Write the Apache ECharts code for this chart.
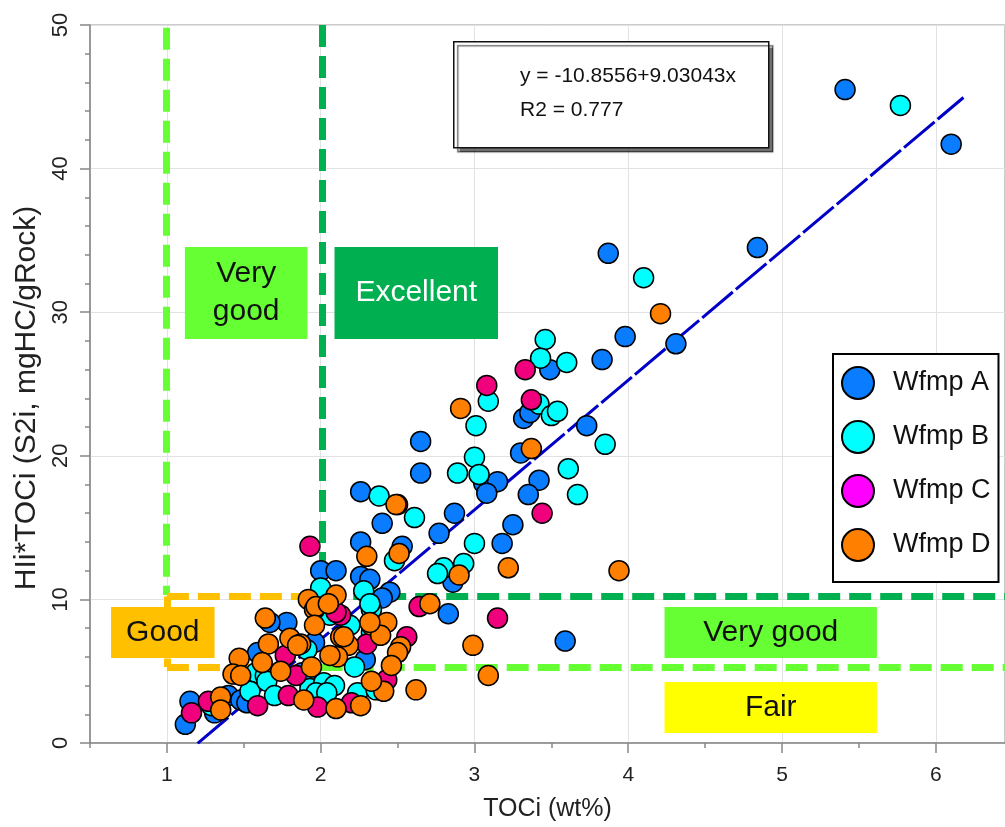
<!DOCTYPE html>
<html><head><meta charset="utf-8">
<script src="https://cdn.jsdelivr.net/npm/echarts@6/dist/echarts.min.js"></script>
<style>html,body{margin:0;padding:0;background:#fff}#c{width:1005px;height:827px}</style>
</head><body><div id="c"></div>
<script>
// ---------------- data ----------------
const seriesNames = ['Wfmp A', 'Wfmp B', 'Wfmp C', 'Wfmp D'];
const wfmpA = [
  [5.41,45.5],[6.10,41.7],[4.84,34.5],[3.87,34.1],[3.98,28.3],[4.31,27.8],[3.83,26.7],[3.49,26.0],
  [3.32,22.6],[3.36,23.0],[3.73,22.1],[2.65,21.0],[2.65,18.8],[3.06,18.1],[3.15,18.2],[3.08,17.4],
  [3.30,20.2],[3.42,18.3],[3.35,17.3],[3.25,15.2],[3.18,13.9],[2.26,17.5],[2.87,16.0],[2.77,14.6],
  [2.40,15.3],[2.26,14.0],[2.53,13.7],[2.86,11.2],[2.00,12.0],[2.10,12.0],[2.26,11.6],[2.32,11.4],
  [2.45,10.5],[2.40,10.1],[2.83,9.0],[3.59,7.1],[1.96,7.0],[2.29,5.8],[1.78,8.4],[1.67,8.4],
  [1.59,6.3],[1.90,4.6],[1.40,3.3],[1.48,3.0],[1.52,2.8],[1.15,2.9],[1.31,2.1],[1.12,1.3],[1.88,4.9]
];
const wfmpB = [
  [5.77,44.4],[4.10,32.4],[3.46,28.1],[3.60,26.5],[3.43,26.8],[3.09,23.8],[3.01,22.1],[3.42,23.6],
  [3.50,22.8],[3.54,23.1],[3.85,20.8],[3.00,19.9],[2.89,18.8],[3.03,18.7],[3.61,19.1],[3.67,17.3],
  [3.00,13.9],[2.38,17.2],[2.61,15.7],[2.48,12.7],[2.80,12.2],[2.76,11.8],[2.93,12.5],[2.28,10.6],
  [2.00,10.8],[2.06,8.9],[2.19,8.2],[2.33,9.3],[2.22,5.3],[2.37,7.9],[2.32,9.7],[1.58,4.9],
  [1.64,4.7],[1.54,3.6],[1.29,2.6],[1.65,4.3],[1.70,3.3],[1.93,3.8],[2.02,4.2],[2.09,4.0],
  [1.97,3.5],[2.04,3.5],[2.24,3.5],[2.36,3.7],[1.91,6.5],[2.33,7.7]
];
const wfmpC = [
  [3.33,26.0],[3.08,24.9],[3.37,23.9],[3.44,16.0],[2.50,16.6],[1.93,13.7],[2.64,9.5],[3.15,8.7],
  [2.13,8.9],[2.56,7.4],[2.30,6.9],[2.43,4.4],[1.77,6.1],[1.84,4.7],[1.79,3.3],[1.98,2.5],
  [2.20,2.8],[1.59,2.6],[1.27,2.9],[1.16,2.1],[2.10,9.1]
];
const wfmpD = [
  [4.21,29.9],[2.91,23.3],[3.37,20.5],[2.49,16.6],[2.30,13.0],[2.51,13.2],[3.22,12.2],[3.94,12.0],
  [2.90,11.7],[2.10,10.3],[1.92,10.0],[2.71,9.7],[2.99,6.8],[3.09,4.7],[1.96,9.3],[2.33,8.2],
  [2.43,8.4],[2.39,7.5],[2.52,6.7],[2.50,6.3],[2.46,5.4],[2.18,6.8],[2.11,6.0],[2.06,6.1],
  [1.94,5.3],[2.62,3.7],[2.41,3.6],[1.97,9.5],[2.05,9.7],[1.96,8.2],[1.64,8.7],[2.13,7.4],
  [1.80,7.3],[1.66,6.9],[1.87,6.9],[1.74,5.0],[1.62,5.6],[2.33,4.3],[1.89,3.0],[2.10,2.4],
  [2.26,2.6],[1.47,5.9],[1.43,4.8],[1.48,4.7],[1.35,3.2],[1.35,2.3],[2.15,7.4],[2.32,8.4],[1.85,6.8]
];
const xTickValues = [1, 2, 3, 4, 5, 6];
const xMinorTickValues = [0.5, 1.5, 2.5, 3.5, 4.5, 5.5];
const fitIntercept = -10.8556;
const fitSlope = 9.03043;
const fitR2 = 0.777;
const fitXRange = [1.2, 6.18];
const zoneTextVeryGood = 'Very\ngood';
const zoneTextExcellent = 'Excellent';
const zoneTextGood = 'Good';
const zoneTextVeryGood2 = 'Very good';
const zoneTextFair = 'Fair';

// ---------------- styles ----------------
const FONT = '"Liberation Sans", Arial, sans-serif';
const colA = '#0a7cff', colB = '#00ffff', colC = '#f0007c', colCLegend = '#ff00ff', colD = '#ff8000';
const lightGreen = '#66ff33', darkGreen = '#00b050', orange = '#ffc000', yellow = '#ffff00';
const XMAX = 6.45;

const fitData = fitXRange.map(x => [x, fitIntercept + fitSlope * x]);

function dashLine(p1, p2, color) {
  return [{coord: p1, lineStyle: {color: color, width: 7, type: [22, 9]}}, {coord: p2}];
}
function box(x1, y1, x2, y2, color, text, textColor) {
  return [{
    coord: [x1, y1],
    itemStyle: {color: color, opacity: 1, borderWidth: 0},
    label: {show: true, position: 'inside', formatter: text, color: textColor,
            fontSize: 30, fontFamily: FONT, lineHeight: 38}
  }, {coord: [x2, y2]}];
}

const chart = echarts.init(document.getElementById('c'), null, {renderer: 'canvas'});
const scatterBase = (name, data, color, z) => ({
  name: name, type: 'scatter', data: data, symbol: 'circle', symbolSize: 20, z: z,
  itemStyle: {color: color, borderColor: '#000', borderWidth: 1.5, opacity: 1},
  emphasis: {disabled: true}
});

chart.setOption({
  animation: false,
  backgroundColor: '#fff',
  textStyle: {fontFamily: FONT},
  grid: {left: 90, right: 0, top: 25, bottom: 84, show: true, borderColor: '#999', borderWidth: 1},
  xAxis: [{
    type: 'value', min: 0.5, max: XMAX, interval: 0.5, position: 'bottom',
    axisLine: {show: true, onZero: false, lineStyle: {color: '#888', width: 1.5}},
    axisTick: {show: true, customValues: xTickValues, length: 10, lineStyle: {color: '#888', width: 1.5}},
    axisLabel: {customValues: xTickValues, fontSize: 21, color: '#222', margin: 22, fontFamily: FONT},
    splitLine: {show: true, lineStyle: {color: '#e2e2e2', width: 1}},
    name: 'TOCi (wt%)', nameLocation: 'middle', nameGap: 54,
    nameTextStyle: {fontSize: 25, color: '#222', fontFamily: FONT}
  }, {
    type: 'value', min: 0.5, max: XMAX, interval: 0.5, position: 'bottom',
    axisLine: {show: false, onZero: false},
    axisTick: {show: true, customValues: xMinorTickValues, length: 5, lineStyle: {color: '#888', width: 1.5}},
    axisLabel: {show: false},
    splitLine: {show: false}
  }],
  yAxis: {
    type: 'value', min: 0, max: 50, interval: 10,
    axisLine: {show: true, onZero: false, lineStyle: {color: '#888', width: 1.5}},
    axisTick: {show: true, length: 10, lineStyle: {color: '#888', width: 1.5}},
    minorTick: {show: true, splitNumber: 5, length: 5, lineStyle: {color: '#888', width: 1.5}},
    axisLabel: {rotate: 90, fontSize: 22, color: '#222', margin: 18, fontFamily: FONT},
    splitLine: {show: true, lineStyle: {color: '#e2e2e2', width: 1}},
    name: 'HIi*TOCi (S2i, mgHC/gRock)', nameLocation: 'middle', nameGap: 48,
    nameTextStyle: {fontSize: 30, color: '#222', fontFamily: FONT, padding: [0, 28, 0, 0]}
  },
  legend: {
    orient: 'vertical', left: 833, top: 354,
    data: [
      {name: 'Wfmp A'}, {name: 'Wfmp B'},
      {name: 'Wfmp C', itemStyle: {color: colCLegend}}, {name: 'Wfmp D'}
    ],
    icon: 'circle', itemWidth: 32, itemHeight: 32, itemGap: 20,
    padding: [12, 8, 20, 8],
    borderColor: '#000', borderWidth: 2, backgroundColor: '#fff',
    itemStyle: {borderColor: '#000', borderWidth: 2},
    textStyle: {fontSize: 27, color: '#111', fontFamily: FONT, padding: [0, 0, 0, 14]},
    selectedMode: false
  },
  graphic: [{
    type: 'rect', left: 453, top: 41, z: 100,
    shape: {width: 315, height: 106},
    style: {fill: '#fff', stroke: '#111', lineWidth: 1.5,
            shadowColor: 'rgba(0,0,0,0.55)', shadowOffsetX: 4, shadowOffsetY: 4, shadowBlur: 1}
  }, {
    type: 'text', left: 520, top: 66, z: 101,
    style: {text: 'y = ' + fitIntercept + '+' + fitSlope + 'x', fontSize: 21, fill: '#111', fontFamily: FONT}
  }, {
    type: 'text', left: 520, top: 100, z: 101,
    style: {text: 'R2 = ' + fitR2, fontSize: 21, fill: '#111', fontFamily: FONT}
  }],
  series: [{
    name: 'zones-lines', type: 'scatter', data: [], z: 1, silent: true,
    markLine: {
      silent: true, z: 1, symbol: ['none', 'none'], label: {show: false}, animation: false,
      data: [
        dashLine([0.995, 49.8], [0.995, 10.3], lightGreen),
        dashLine([2.01, 50], [2.01, 10.2], darkGreen),
        dashLine([2.01, 10.2], [XMAX, 10.2], darkGreen),
        dashLine([2.0, 5.3], [XMAX, 5.3], lightGreen),
        dashLine([1.0, 10.2], [2.0, 10.2], orange),
        dashLine([1.0, 10.2], [1.0, 5.3], orange),
        dashLine([1.0, 5.3], [2.0, 5.3], orange)
      ]
    }
  }, {
    name: 'zones-boxes', type: 'scatter', data: [], z: 2, silent: true,
    markArea: {
      silent: true, z: 2, animation: false,
      data: [
        box(1.117, 34.54, 1.914, 28.13, lightGreen, zoneTextVeryGood, '#111'),
        box(2.09, 34.54, 3.153, 28.13, darkGreen, zoneTextExcellent, '#fff'),
        box(0.637, 9.47, 1.31, 5.92, orange, zoneTextGood, '#111'),
        box(4.236, 9.47, 5.617, 5.92, lightGreen, zoneTextVeryGood2, '#111'),
        box(4.236, 4.25, 5.617, 0.70, yellow, zoneTextFair, '#111')
      ]
    }
  }, {
    name: 'fit', type: 'line', data: fitData, z: 3, symbol: 'none', silent: true,
    lineStyle: {color: '#0000c8', width: 3, type: [40, 4]}
  },
    scatterBase(seriesNames[0], wfmpA, colA, 4),
    scatterBase(seriesNames[1], wfmpB, colB, 5),
    scatterBase(seriesNames[2], wfmpC, colC, 6),
    scatterBase(seriesNames[3], wfmpD, colD, 7)
  ]
});
</script></body></html>
